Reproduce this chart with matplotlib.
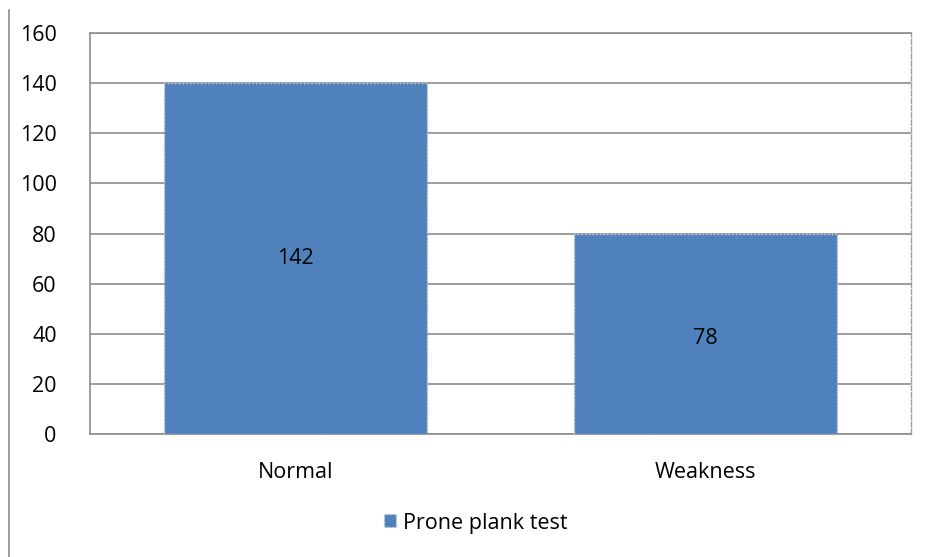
import matplotlib
import matplotlib.pyplot as plt
from matplotlib.lines import Line2D

matplotlib.use('agg')

categories = ['Normal', 'Weakness']
barHeights = [140, 80]
labelValues = [142, 78]
seriesName = 'Prone plank test'
yTicks = [0, 20, 40, 60, 80, 100, 120, 140, 160]

plt.rcParams['font.family'] = ['Open Sans', 'DejaVu Sans']
fontSize = 15.5

fig = plt.figure(figsize=(9.26, 5.57), dpi=100)
ax = fig.add_axes([90 / 926, 1 - 434 / 557, 821 / 926, 401 / 557])

barColor = '#4F81BD'
xPos = list(range(len(categories)))
bars = ax.bar(xPos, barHeights, width=0.64, color=barColor,
              edgecolor='#d0d0d0', linewidth=1, linestyle=':', zorder=3,
              label=seriesName)
# value labels sit in the middle of the labelled value
for x, v in zip(xPos, labelValues):
    ax.text(x, v / 2, str(v), ha='center', va='center_baseline',
            fontsize=fontSize, color='black', zorder=4)

ax.set_xlim(-0.5, len(categories) - 0.5)
ax.set_ylim(0, 160)
ax.set_yticks(yTicks)
ax.set_xticks(xPos)
ax.set_xticklabels(categories)
ax.tick_params(axis='both', labelsize=fontSize, length=0)
ax.tick_params(axis='y', pad=24)
ax.tick_params(axis='x', pad=20)
ax.grid(axis='y', color='#8c8c8c', linewidth=1.2, zorder=1)

for side in ['left', 'top', 'bottom']:
    ax.spines[side].set_color('#8c8c8c')
    ax.spines[side].set_linewidth(1.2)
ax.spines['right'].set_color('#a0a0a0')
ax.spines['right'].set_linestyle('--')
ax.spines['right'].set_linewidth(1)

# thin frame line at far left
fig.add_artist(Line2D([9 / 926, 9 / 926], [0, 1 - 10 / 557], color='#8c8c8c',
                      linewidth=1.2, transform=fig.transFigure))

fig.legend(handles=[bars], labels=[seriesName], loc='center',
           bbox_to_anchor=(476 / 926, 1 - 523 / 557), frameon=False,
           fontsize=fontSize, handlelength=0.55, handleheight=0.55,
           handletextpad=0.35)

fig.savefig('out.png', dpi=100)
